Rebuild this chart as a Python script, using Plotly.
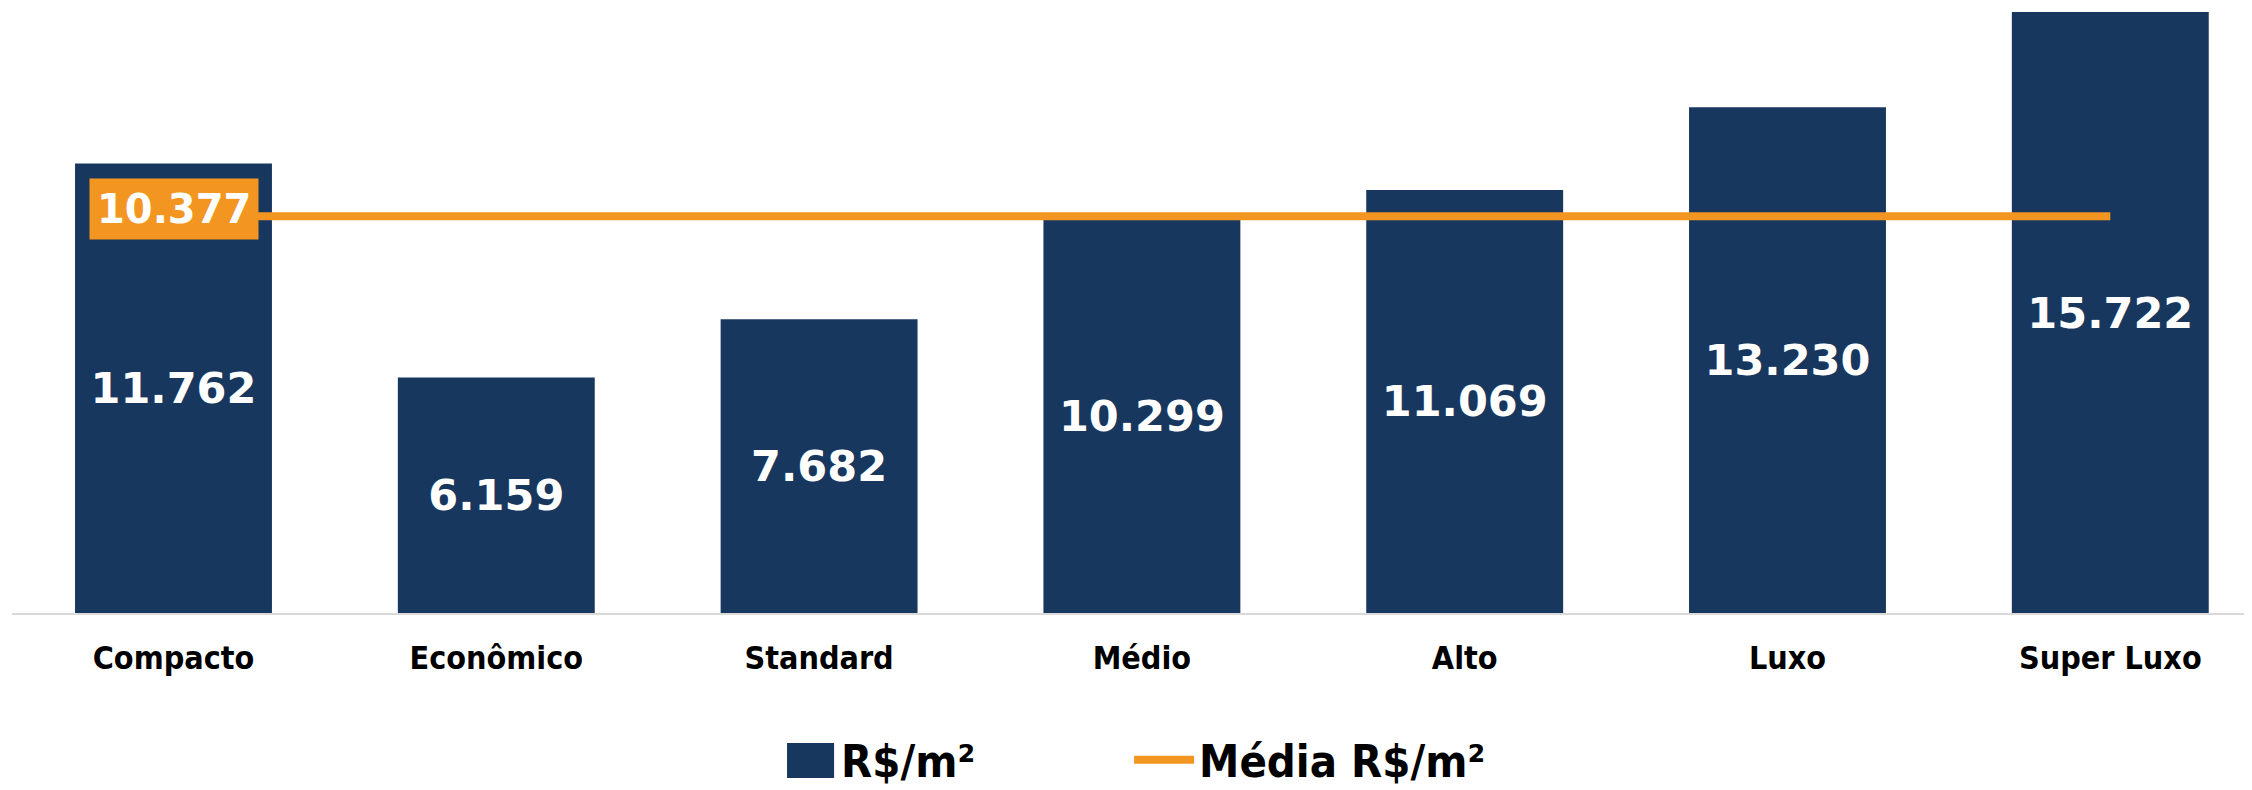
import plotly.graph_objects as go

categorias = ["Compacto", "Econômico", "Standard", "Médio", "Alto", "Luxo", "Super Luxo"]
valores_m2 = [11762, 6159, 7682, 10299, 11069, 13230, 15722]
media_m2 = [10377, 10377, 10377, 10377, 10377, 10377, 10377]
rotulo_media = "10.377"

AZUL = "#17375E"
LARANJA = "#F39621"
BOLD_NUM = "DejaVu Sans, Verdana, sans-serif"
NARROW = "DejaVu Sans Condensed, Liberation Sans Narrow, sans-serif"

fig = go.Figure()

fig.add_trace(go.Bar(
    x=categorias,
    y=valores_m2,
    name="R$/m²",
    legend="legend",
    marker=dict(color=AZUL, line=dict(width=0)),
    texttemplate="%{y:,.0f}",
    textposition="inside",
    insidetextanchor="middle",
    textangle=0,
    constraintext="none",
    textfont=dict(family=BOLD_NUM, size=43, color="white", weight="bold"),
))

fig.add_trace(go.Scatter(
    x=categorias,
    y=media_m2,
    name="Média R$/m²",
    legend="legend2",
    mode="lines",
    line=dict(color=LARANJA, width=8),
))

fig.add_annotation(
    x=categorias[0], y=media_m2[0],
    text=rotulo_media,
    showarrow=False,
    yshift=7,
    bgcolor=LARANJA,
    borderpad=7,
    font=dict(family=BOLD_NUM, size=40, color="white", weight="bold"),
)

# larger swatch for the bar legend entry (Excel-style square)
fig.add_shape(
    type="rect", xref="paper", yref="paper",
    x0=0.346, x1=0.367, y0=-0.2727, y1=-0.2149,
    fillcolor=AZUL, line=dict(width=0), layer="above",
)

legend_font = dict(family=NARROW, size=45, color="black", weight="bold")

fig.update_layout(
    width=2244, height=782,
    margin=dict(l=4, r=0, t=0, b=177, autoexpand=False),
    paper_bgcolor="white",
    plot_bgcolor="rgba(0,0,0,0)",
    separators=",.",
    bargap=0.39,
    showlegend=True,
    legend=dict(
        orientation="h",
        x=0.3478, xanchor="left",
        y=-0.243, yanchor="middle",
        font=legend_font,
        itemwidth=40,
        bgcolor="rgba(0,0,0,0)",
    ),
    legend2=dict(
        orientation="h",
        x=0.4987, xanchor="left",
        y=-0.243, yanchor="middle",
        font=legend_font,
        itemwidth=60,
        bgcolor="rgba(0,0,0,0)",
    ),
    xaxis=dict(
        range=[-0.5003, 6.439],
        showgrid=False,
        showline=True,
        linecolor="#D9D9D9",
        linewidth=2,
        ticks="",
        ticklabelstandoff=16,
        tickfont=dict(family=NARROW, size=32, color="black", weight="bold"),
        fixedrange=True,
    ),
    yaxis=dict(
        range=[0, 15827],
        visible=False,
        showgrid=False,
        zeroline=False,
        fixedrange=True,
    ),
)

fig.write_html("out.html")
